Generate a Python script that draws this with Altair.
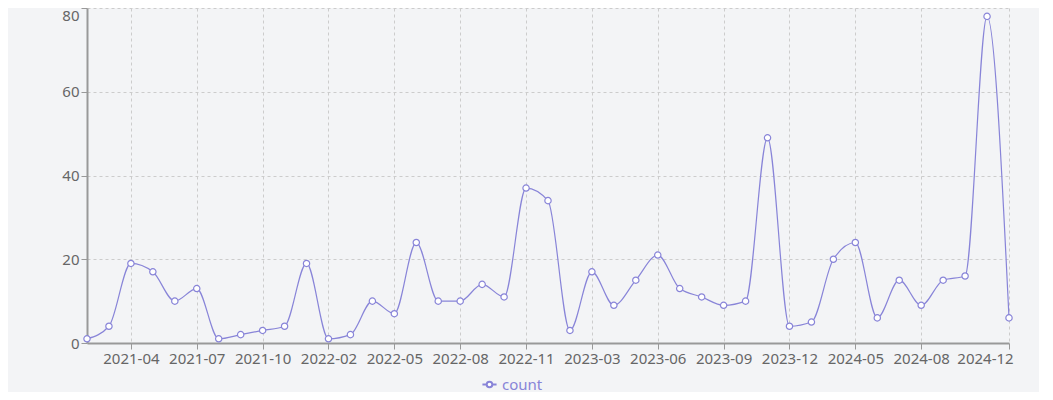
import altair as alt
import pandas as pd

months = ["2021-02", "2021-03", "2021-04", "2021-05", "2021-06", "2021-07", "2021-08",
          "2021-09", "2021-10", "2021-11", "2021-12", "2022-02", "2022-03", "2022-04",
          "2022-05", "2022-06", "2022-07", "2022-08", "2022-09", "2022-10", "2022-11",
          "2022-12", "2023-01", "2023-03", "2023-04", "2023-05", "2023-06", "2023-07",
          "2023-08", "2023-09", "2023-10", "2023-11", "2023-12", "2024-02", "2024-04",
          "2024-05", "2024-06", "2024-07", "2024-08", "2024-09", "2024-10", "2024-11",
          "2024-12"]
counts = [1, 4, 19, 17, 10, 13, 1, 2, 3, 4, 19, 1, 2, 10, 7, 24, 10, 10, 14, 11,
          37, 34, 3, 17, 9, 15, 21, 13, 11, 9, 10, 49, 4, 5, 20, 24, 6, 15, 9, 15,
          16, 78, 6]
tick_labels = ["2021-04", "2021-07", "2021-10", "2022-02", "2022-05", "2022-08",
               "2022-11", "2023-03", "2023-06", "2023-09", "2023-12", "2024-05",
               "2024-08", "2024-12"]
y_ticks = [0, 20, 40, 60, 80]

df = pd.DataFrame({"month": months, "count": counts, "series": ["count"] * len(months)})

COLOR = "#8884d8"
FONT = "Noto Sans"

x_enc = alt.X(
    "month:O", sort=None, title=None,
    scale=alt.Scale(type="point", padding=0),
    axis=alt.Axis(
        values=tick_labels, labelAngle=0, grid=True, gridDash=[3, 3], gridColor="#cccccc",
        domainColor="#999999", domainWidth=2, tickColor="#999999", tickSize=6,
        labelColor="#666666", labelFont=FONT, labelFontSize=15, labelPadding=2,
        labelOffset=alt.condition("datum.value == '2024-12'", alt.value(-24), alt.value(0)),
    ),
)
y_enc = alt.Y(
    "count:Q", title=None,
    scale=alt.Scale(domain=[0, 80], nice=False),
    axis=alt.Axis(
        values=y_ticks, grid=True, gridDash=[3, 3], gridColor="#cccccc",
        domainColor="#999999", domainWidth=2, tickColor="#999999", tickSize=6,
        labelColor="#666666", labelFont=FONT, labelFontSize=15, labelPadding=2,
        labelOffset=alt.condition("datum.value == 80", alt.value(7), alt.value(0)),
    ),
)

line = alt.Chart(df).mark_line(interpolate="monotone", strokeWidth=1.2).encode(
    x=x_enc, y=y_enc,
    color=alt.Color(
        "series:N", scale=alt.Scale(range=[COLOR]),
        legend=alt.Legend(
            title=None, orient="none", legendX=394, legendY=368,
            symbolType="M-1,0H-0.4M0.4,0H1M-0.4,0A0.4,0.4 0 1,1 0.4,0A0.4,0.4 0 1,1 -0.4,0",
            symbolSize=200, symbolFillColor="white", symbolStrokeColor=COLOR,
            symbolStrokeWidth=2, labelColor=COLOR, labelFont=FONT, labelFontSize=15,
            labelOffset=4,
        ),
    ),
)

points = alt.Chart(df).mark_point(
    shape="circle", filled=True, fill="white", stroke=COLOR, strokeWidth=1.2,
    size=40, opacity=1,
).encode(x=x_enc, y=y_enc)

chart = (line + points).properties(
    width=922, height=335,
    autosize=alt.AutoSizeParams(type="none"),
    padding={"left": 79, "top": 0, "right": 30, "bottom": 49},
    background="#f3f4f6",
).configure_view(stroke=None)

chart.save("out.html", embed_options={"renderer": "svg", "actions": False})
